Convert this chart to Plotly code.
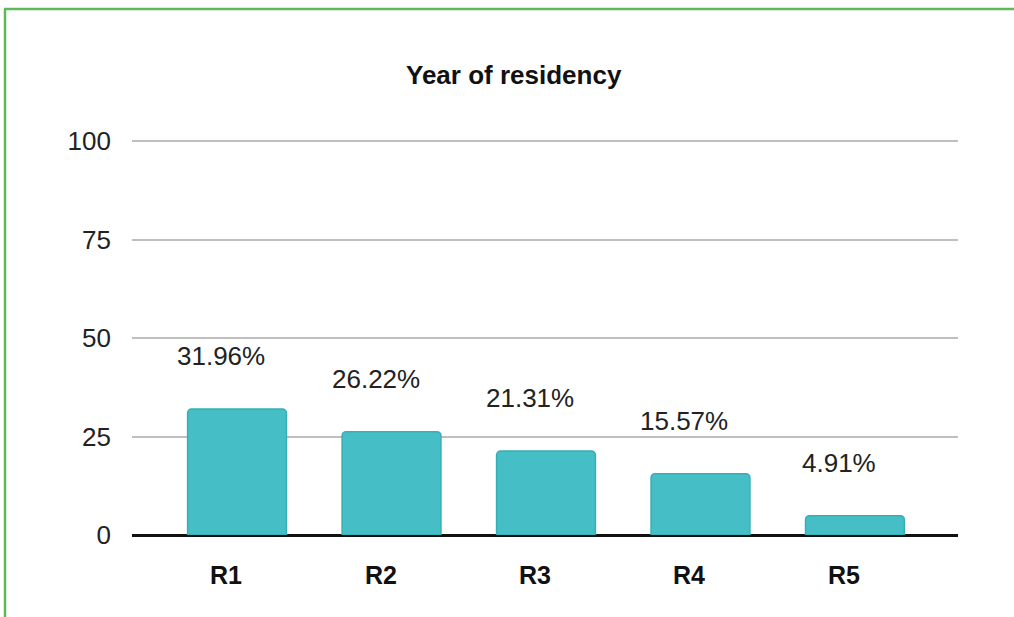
import plotly.graph_objects as go

categories = ["R1", "R2", "R3", "R4", "R5"]
values = [31.96, 26.22, 21.31, 15.57, 4.91]
value_labels = ["31.96%", "26.22%", "21.31%", "15.57%", "4.91%"]
y_ticks = [0, 25, 50, 75, 100]
title_text = "Year of residency"

W, H = 1014, 617
L, R, T, B = 132, 56, 139, 82
pw, ph = W - L - R, H - T - B
y_top = ph / 3.94  # 100 lands at pixel 141

def px_x(p):
    return (p - L) / pw

def px_y(p):
    return (H - B - p) / ph

FONT = "Liberation Sans, Arial, Helvetica, sans-serif"

fig = go.Figure()
fig.add_trace(go.Bar(
    x=list(range(len(categories))),
    y=values,
    width=0.64,
    marker=dict(color="#46BEC5", line=dict(color="#35AFB7", width=1.5)),
    hoverinfo="skip",
))

annotations = []
for i, (v, lab) in enumerate(zip(values, value_labels)):
    annotations.append(dict(
        x=i, y=v, xref="x", yref="y", text=lab, showarrow=False,
        xanchor="center", yanchor="middle", xshift=-16, yshift=53,
        font=dict(family=FONT, size=26, color="#222222"),
    ))
for i, c in enumerate(categories):
    annotations.append(dict(
        x=i, y=0, xref="x", yref="y", text="<b>" + c + "</b>", showarrow=False,
        xanchor="center", yanchor="middle", xshift=-11, yshift=-40,
        font=dict(family=FONT, size=25, color="#111111"),
    ))
annotations.append(dict(
    x=px_x(514), y=px_y(75), xref="paper", yref="paper",
    text="<b>" + title_text + "</b>", showarrow=False,
    xanchor="center", yanchor="middle",
    font=dict(family=FONT, size=26, color="#111111"),
))

green = "#5DBB57"
shapes = [
    dict(type="line", xref="paper", yref="paper",
         x0=px_x(4), x1=px_x(1030), y0=px_y(9), y1=px_y(9),
         line=dict(color=green, width=2.5)),
    dict(type="line", xref="paper", yref="paper",
         x0=px_x(5), x1=px_x(5), y0=px_y(9), y1=px_y(640),
         line=dict(color=green, width=2.5)),
]

fig.update_layout(
    width=W, height=H,
    margin=dict(l=L, r=R, t=T, b=B),
    paper_bgcolor="white", plot_bgcolor="white",
    showlegend=False,
    barcornerradius=4,
    annotations=annotations,
    shapes=shapes,
    xaxis=dict(
        range=[-0.68, 4.667], showticklabels=False, showgrid=False,
        zeroline=False, showline=False, ticks="", fixedrange=True,
    ),
    yaxis=dict(
        range=[0, y_top], tickvals=y_ticks, ticktext=[str(t) for t in y_ticks],
        showgrid=True, gridcolor="#BFBFBF", gridwidth=2,
        zeroline=True, zerolinecolor="#111111", zerolinewidth=2.5,
        showline=False, ticks="", ticklabelstandoff=20,
        tickfont=dict(family=FONT, size=26, color="#222222"),
        fixedrange=True,
    ),
)

fig.write_html(
    "out.html",
    config={"displayModeBar": False},
    post_script="document.body.style.margin='0';document.body.style.overflow='hidden';",
)
